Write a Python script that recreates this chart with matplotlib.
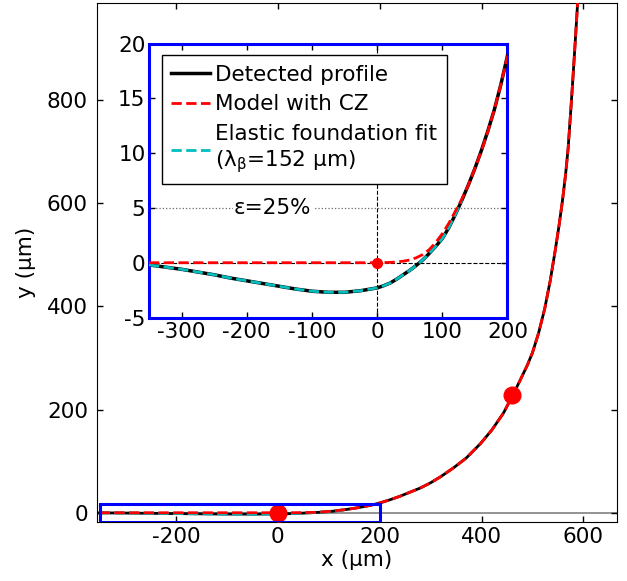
import matplotlib
matplotlib.use("Agg")
from matplotlib import pyplot as plt
from matplotlib.patches import Rectangle

plt.rcParams['axes.unicode_minus'] = False
plt.rcParams['font.size'] = 15.5

# profile near the contact edge (um)
x_near = [-350, -325, -300, -275, -250, -225, -200, -175, -150, -125, -100, -75,
          -50, -25, 0, 10, 20, 30, 40, 50, 60, 70, 80, 90, 100, 110, 120, 130,
          140, 150, 160, 170, 180, 190, 200]
y_detected_near = [-0.2, -0.4, -0.6, -0.85, -1.1, -1.4, -1.65, -1.9, -2.15, -2.4,
                   -2.6, -2.7, -2.7, -2.55, -2.3, -2.1, -1.85, -1.5, -1.1, -0.7,
                   -0.25, 0.25, 0.85, 1.5, 2.2, 3.2, 4.4, 5.7, 7.1, 8.6, 10.25,
                   12.05, 14.0, 16.3, 18.9]
y_model_near = [0, 0, 0, 0, 0, 0, 0, 0, 0, 0, 0, 0, 0, 0, 0, 0.01, 0.03, 0.07,
                0.14, 0.25, 0.45, 0.75, 1.2, 1.85, 2.65, 3.6, 4.7, 5.8, 7.1, 8.6,
                10.2, 12.0, 14.0, 16.3, 18.9]

# elastic foundation fit
x_fit = [-350, -325, -300, -275, -250, -225, -200, -175, -150, -125, -100, -75,
         -50, -25, 0, 10, 20, 30, 40, 50, 60, 70, 80, 90, 100, 110, 120, 130]
y_fit = [-0.2, -0.4, -0.6, -0.85, -1.1, -1.4, -1.65, -1.9, -2.15, -2.4, -2.6,
         -2.7, -2.7, -2.55, -2.3, -2.1, -1.85, -1.5, -1.1, -0.7, -0.25, 0.25,
         0.85, 1.5, 2.2, 3.2, 4.4, 5.7]

# rest of the profile
x_far = [220, 240, 260, 280, 300, 320, 345, 370, 398, 420, 443, 462, 475, 490,
         500, 512, 524, 535, 545, 552, 559, 565, 570, 576, 580, 584, 587, 590]
y_far = [25, 32, 40, 48, 58, 70, 87, 106, 134, 160, 193, 229, 255, 286, 310,
         348, 395, 450, 510, 555, 605, 655, 705, 790, 850, 912, 960, 1010]

x_dots = [0, 460]
y_dots = [0, 229]

x_all = x_near + x_far
y_det_all = y_detected_near + y_far
y_mod_all = y_model_near + y_far

fig = plt.figure(figsize=(6.27, 5.81), dpi=100)
ax = fig.add_axes([0.1547, 0.1015, 0.8293, 0.8933])

ax.axhline(0, color='grey', lw=1.2, zorder=1)
ax.plot(x_all, y_det_all, color='black', lw=2, zorder=2)
ax.plot(x_fit, y_fit, color='c', lw=2, ls='--', zorder=3)
ax.plot(x_all, y_mod_all, color='red', lw=2, ls='--', zorder=4)
ax.plot(x_dots, y_dots, 'o', color='red', ms=12, zorder=5)
ax.add_patch(Rectangle((-350, -17), 550, 34, fill=False, ec='blue', lw=2.2, zorder=6))

ax.set_xlim(-355, 666)
ax.set_ylim(-18, 988)
ax.set_xticks([-200, 0, 200, 400, 600])
ax.set_yticks([0, 200, 400, 600, 800])
ax.tick_params(direction='in', top=True, right=True, length=4.5, width=1)
ax.tick_params(axis='x', pad=3.5)
ax.tick_params(axis='y', pad=6.5)
ax.set_xlabel('x (µm)', labelpad=2)
ax.set_ylabel('y (µm)', labelpad=8)

# zoomed view of the contact edge
ins = fig.add_axes([0.2376, 0.4535, 0.5718, 0.4716])
ins.axvline(0, color='black', lw=0.8, ls='--', zorder=1)
ins.axhline(0, color='black', lw=0.8, ls='--', zorder=1)
ins.axhline(5, color='dimgray', lw=0.9, ls=':', zorder=1)
ins.text(-160, 5, 'ε=25%', ha='center', va='center', fontsize=15.5,
         bbox=dict(facecolor='white', edgecolor='none', pad=1), zorder=2)
ins.plot(x_near, y_detected_near, color='black', lw=2.5, label='Detected profile', zorder=3)
ins.plot(x_fit, y_fit, color='c', lw=2, ls='--', zorder=4,
         label='Elastic foundation fit\n(λ$_\\mathrm{β}$=152 µm)')
ins.plot(x_near, y_model_near, color='red', lw=2, ls='--', zorder=5,
         label='Model with CZ')
ins.plot([0], [0], 'o', color='red', ms=7, zorder=6)

ins.set_xlim(-350, 200)
ins.set_ylim(-5, 20)
ins.set_xticks([-300, -200, -100, 0, 100, 200])
ins.set_yticks([-5, 0, 5, 10, 15, 20])
ins.tick_params(direction='in', top=True, right=True, length=4, width=1)
ins.tick_params(axis='x', pad=3.5)
ins.tick_params(axis='y', pad=2.5)
for s in ins.spines.values():
    s.set_color('blue')
    s.set_linewidth(2.2)

h, lab = ins.get_legend_handles_labels()
order = [0, 2, 1]
leg = ins.legend([h[i] for i in order], [lab[i] for i in order], loc='upper left',
                 bbox_to_anchor=(0.035, 0.958), borderaxespad=0, fancybox=False,
                 framealpha=1, edgecolor='black', fontsize=15.5, handlelength=1.8,
                 labelspacing=0.45, handletextpad=0.25, borderpad=0.45)
leg.get_frame().set_linewidth(1)

fig.savefig('out.png', dpi=100)
